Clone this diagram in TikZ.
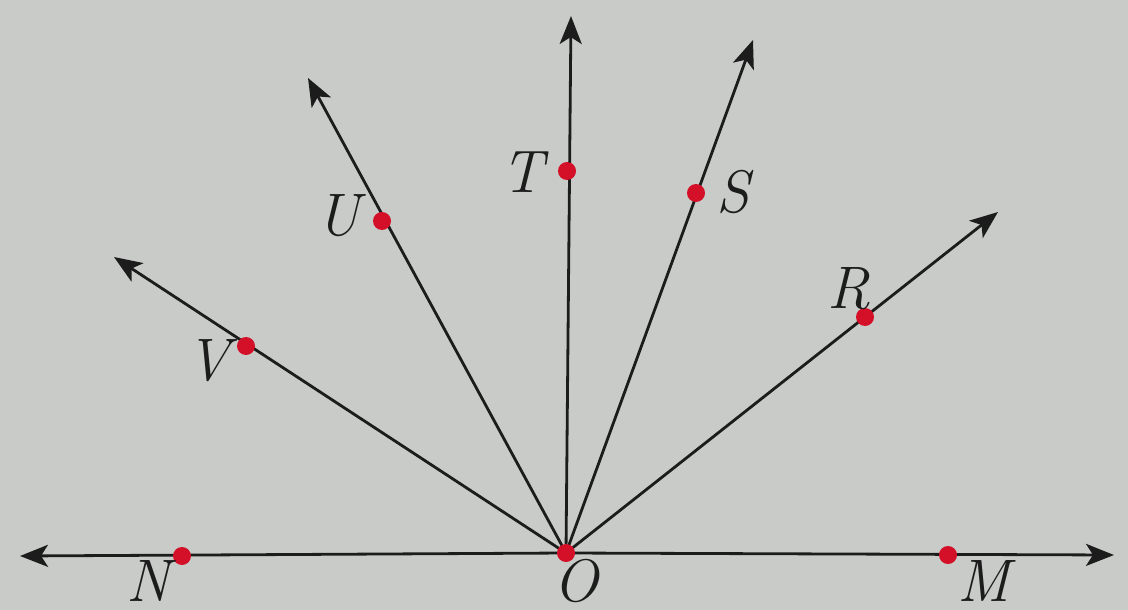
\documentclass[tikz,border=0pt]{standalone}
\usetikzlibrary{arrows.meta}
\definecolor{bg}{RGB}{200,203,200}
\definecolor{dotred}{RGB}{212,16,40}
\definecolor{ink}{RGB}{28,28,28}
\tikzset{
  ray/.style={draw=ink, line width=2.8pt, -{Stealth[length=28pt,width=22pt,inset=7pt]}},
  rdot/.style={circle, fill=dotred, inner sep=0pt, minimum size=18pt},
  lbl/.style={text=ink, inner sep=0pt, font=\fontsize{60}{64}\selectfont\itshape},
}
\begin{document}
\begin{tikzpicture}[x=1pt,y=-1pt]
\fill[bg] (0,0) rectangle (1128,610);
\useasboundingbox (0,0) rectangle (1128,610);
% end points
\coordinate (O) at (566,553);
\coordinate (Ntip) at (20,556);
\coordinate (Mtip) at (1114,555);
\coordinate (Ttip) at (571,16);
\coordinate (Stip) at (753,40);
\coordinate (Utip) at (308,78);
\coordinate (Vtip) at (114,257);
\coordinate (Rtip) at (998,212);
% rays
\draw[ray] (O) -- (Ntip);
\draw[ray] (O) -- (Mtip);
\draw[ray] (O) -- (Ttip);
\draw[ray] (O) -- (Stip);
\draw[ray] (O) -- (Utip);
\draw[ray] (O) -- (Vtip);
\draw[ray] (O) -- (Rtip);
% dots
\node[rdot] (dO) at (O) {};
\node[rdot] (dN) at (182,556) {};
\node[rdot] (dM) at (948,555) {};
\node[rdot] (dT) at (567,171) {};
\node[rdot] (dS) at (696,193) {};
\node[rdot] (dU) at (382,221) {};
\node[rdot] (dV) at (246,346) {};
\node[rdot] (dR) at (865,317) {};
% labels
\node[lbl] (lO) at (576,581) {O};
\node[lbl] (lN) at (148,581) {N};
\node[lbl] (lM) at (984,581) {M};
\node[lbl] (lT) at (522,172) {T};
\node[lbl] (lS) at (733,192) {S};
\node[lbl] (lU) at (338,216) {U};
\node[lbl] (lV) at (208,361) {V};
\node[lbl] (lR) at (849,289) {R};
\end{tikzpicture}
\end{document}
